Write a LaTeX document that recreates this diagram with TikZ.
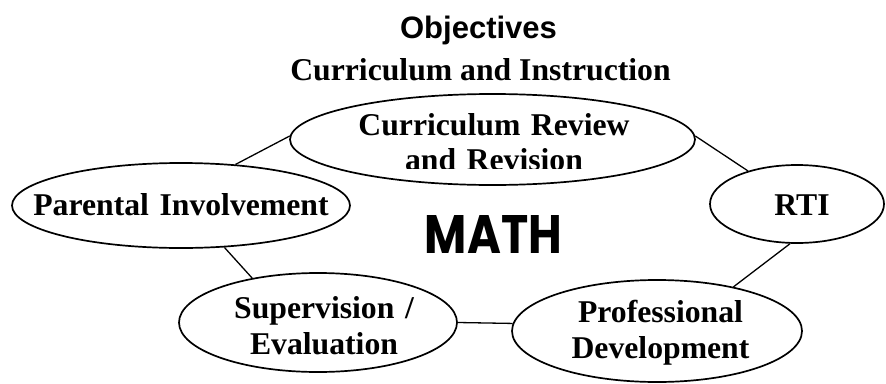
\documentclass[tikz,border=0pt]{standalone}
\usepackage{fontspec}
\usepackage{graphicx}
\setmainfont{Liberation Serif}
\newfontfamily\arialfont{Liberation Sans}
\newfontfamily\mathfont{Poppins}
\usetikzlibrary{shapes.geometric}
\tikzset{
  bub/.style={ellipse, draw, line width=1.7pt, inner sep=0pt},
  lbl/.style={anchor=base, inner sep=0pt, text width=340pt, align=center,
              font=\bfseries\fontsize{31.7}{36.5}\selectfont},
  link/.style={line width=1.3pt}
}
\begin{document}
\begin{tikzpicture}[x=1pt,y=-1pt]
\useasboundingbox (0,0) rectangle (886,383);
% titles
\node[anchor=base, inner sep=0pt, font=\arialfont\bfseries\fontsize{31}{36}\selectfont] (obj) at (478.5,38) {Objectives};
\node[anchor=base, inner sep=0pt, font=\bfseries\fontsize{31.7}{36}\selectfont] (ci) at (480.5,80) {Curriculum and Instruction};
% ellipses
\node[bub, minimum width=405pt, minimum height=91pt] (cur) at (492.5,139.5) {};
\node[bub, minimum width=338pt, minimum height=85pt] (par) at (181,205.5) {};
\node[bub, minimum width=174pt, minimum height=78pt] (rti) at (797,204) {};
\node[bub, minimum width=278pt, minimum height=99pt] (sup) at (318,322.5) {};
\node[bub, minimum width=290pt, minimum height=102pt] (pro) at (657,331) {};
% labels
\begin{scope}
\clip (280,90) rectangle (700,168.5);
\node[lbl, font=\bfseries\fontsize{31.7}{35}\selectfont] (curt) at (494,135) {Curriculum Review\\and Revision};
\end{scope}
\node[lbl] (part) at (181,215) {Parental Involvement};
\node[lbl] (rtit) at (802,215) {RTI};
\node[lbl] (supt) at (324,318) {Supervision /\\Evaluation};
\node[lbl] (prot) at (660.5,322) {Professional\\Development};
\node[anchor=base, inner sep=0pt] (math) at (493.5,253) {\resizebox{137pt}{38pt}{\mathfont\bfseries MATH}};
% connectors
\draw[link] (cur.179) -- (par.37);
\draw[link] (cur.1) -- (rti.146);
\draw[link] (par.-44) -- (sup.146);
\draw[link] (sup.east) -- (pro.177);
\draw[link] (rti.260) -- (pro.30);
\end{tikzpicture}
\end{document}
